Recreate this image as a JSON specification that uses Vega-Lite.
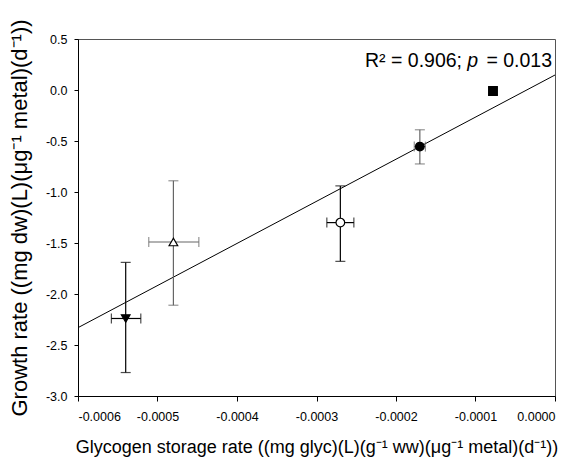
{
  "$schema": "https://vega.github.io/schema/vega-lite/v6.json",
  "autosize": "none",
  "width": 477,
  "height": 357,
  "padding": {"left": 78, "top": 39, "right": 22, "bottom": 72},
  "background": "white",
  "config": {
    "font": "Liberation Sans",
    "view": {"stroke": "#555", "strokeWidth": 1},
    "axis": {"grid": false, "domainColor": "#000", "tickColor": "#000", "labelColor": "#000", "titleColor": "#000", "labelFontSize": 12, "titleFontWeight": "normal", "labelFont": "Liberation Sans", "titleFont": "Liberation Sans"}
  },
  "datasets": {
    "pts": [
      {"series": "A", "x": -0.00054, "y": -2.24, "xlo": -0.000558, "xhi": -0.000521, "ylo": -2.77, "yhi": -1.69},
      {"series": "B", "x": -0.00048, "y": -1.49, "xlo": -0.000511, "xhi": -0.000448, "ylo": -2.11, "yhi": -0.89},
      {"series": "C", "x": -0.00027, "y": -1.30, "xlo": -0.000287, "xhi": -0.000253, "ylo": -1.68, "yhi": -0.94},
      {"series": "D", "x": -0.00017, "y": -0.555, "xlo": -0.000177, "xhi": -0.000163, "ylo": -0.725, "yhi": -0.39},
      {"series": "E", "x": -0.000078, "y": -0.01, "xlo": -0.000083, "xhi": -0.000073, "ylo": -0.045, "yhi": 0.025}
    ],
    "fit": [
      {"x": -0.0006, "y": -2.33},
      {"x": 0.0, "y": 0.147}
    ],
    "note": [
      {"x": 0, "y": 0.225, "stat": "R² = 0.906;", "p": "p", "pval": "= 0.013"}
    ]
  },
  "layer": [
    {
      "data": {"name": "fit"},
      "mark": {"type": "line", "color": "#000", "strokeWidth": 1, "clip": true},
      "encoding": {
        "x": {"field": "x", "type": "quantitative", "scale": {"domain": [-0.0006, 0], "nice": false, "zero": false},
          "axis": {"values": [-0.0006, -0.0005, -0.0004, -0.0003, -0.0002, -0.0001, 0], "labelExpr": "replace(format(datum.value, '.4f'), '\u2212', '-')", "tickSize": 5, "labelPadding": 9, "labelFontSize": 12.5,
            "title": "Glycogen storage rate ((mg glyc)(L)(g⁻¹ ww)(μg⁻¹ metal)(d⁻¹))", "titleFontSize": 18, "titlePadding": 16}},
        "y": {"field": "y", "type": "quantitative", "scale": {"domain": [-3, 0.5], "nice": false, "zero": false},
          "axis": {"values": [-3, -2.5, -2, -1.5, -1, -0.5, 0, 0.5], "labelExpr": "replace(format(datum.value, '.1f'), '\u2212', '-')", "tickSize": 4, "labelPadding": 7, "labelFontSize": 12.5,
            "title": "Growth rate ((mg dw)(L)(μg⁻¹ metal)(d⁻¹))", "titleFontSize": 22, "titlePadding": 14}}
      }
    },
    {
      "data": {"name": "pts"},
      "mark": {"type": "rule", "strokeWidth": 1.2},
      "encoding": {
        "x": {"field": "x", "type": "quantitative"},
        "y": {"field": "ylo", "type": "quantitative"},
        "y2": {"field": "yhi"},
        "stroke": {"field": "series", "type": "nominal", "scale": {"domain": ["A", "B", "C", "D", "E"], "range": ["#000", "#666", "#000", "#666", "#777"]}, "legend": null}
      }
    },
    {
      "data": {"name": "pts"},
      "mark": {"type": "rule", "strokeWidth": 1.2},
      "encoding": {
        "x": {"field": "xlo", "type": "quantitative"},
        "x2": {"field": "xhi"},
        "y": {"field": "y", "type": "quantitative"},
        "stroke": {"field": "series", "type": "nominal", "legend": null}
      }
    },
    {
      "data": {"name": "pts"},
      "mark": {"type": "tick", "orient": "horizontal", "size": 10, "thickness": 1.2},
      "encoding": {
        "x": {"field": "x", "type": "quantitative"},
        "y": {"field": "ylo", "type": "quantitative"},
        "color": {"field": "series", "type": "nominal", "scale": {"domain": ["A", "B", "C", "D", "E"], "range": ["#000", "#666", "#000", "#666", "#777"]}, "legend": null}
      }
    },
    {
      "data": {"name": "pts"},
      "mark": {"type": "tick", "orient": "horizontal", "size": 10, "thickness": 1.2},
      "encoding": {
        "x": {"field": "x", "type": "quantitative"},
        "y": {"field": "yhi", "type": "quantitative"},
        "color": {"field": "series", "type": "nominal", "legend": null}
      }
    },
    {
      "data": {"name": "pts"},
      "mark": {"type": "tick", "orient": "vertical", "size": 10, "thickness": 1.2},
      "encoding": {
        "x": {"field": "xlo", "type": "quantitative"},
        "y": {"field": "y", "type": "quantitative"},
        "color": {"field": "series", "type": "nominal", "legend": null}
      }
    },
    {
      "data": {"name": "pts"},
      "mark": {"type": "tick", "orient": "vertical", "size": 10, "thickness": 1.2},
      "encoding": {
        "x": {"field": "xhi", "type": "quantitative"},
        "y": {"field": "y", "type": "quantitative"},
        "color": {"field": "series", "type": "nominal", "legend": null}
      }
    },
    {
      "data": {"name": "pts"},
      "mark": {"type": "point", "filled": false, "stroke": "#000", "strokeWidth": 1.2, "size": 75, "opacity": 1},
      "encoding": {
        "x": {"field": "x", "type": "quantitative"},
        "y": {"field": "y", "type": "quantitative"},
        "shape": {"field": "series", "type": "nominal", "scale": {"domain": ["A", "B", "C", "D", "E"], "range": ["triangle-down", "triangle-up", "circle", "circle", "square"]}, "legend": null},
        "fill": {"field": "series", "type": "nominal", "scale": {"domain": ["A", "B", "C", "D", "E"], "range": ["#000", "#fff", "#fff", "#000", "#000"]}, "legend": null}
      }
    },
    {
      "data": {"name": "note"},
      "mark": {"type": "text", "align": "right", "baseline": "alphabetic", "fontSize": 19.5, "dx": -93, "color": "#000"},
      "encoding": {"x": {"field": "x", "type": "quantitative"}, "y": {"field": "y", "type": "quantitative"}, "text": {"field": "stat"}}
    },
    {
      "data": {"name": "note"},
      "mark": {"type": "text", "align": "right", "baseline": "alphabetic", "fontSize": 19.5, "fontStyle": "italic", "dx": -77, "color": "#000"},
      "encoding": {"x": {"field": "x", "type": "quantitative"}, "y": {"field": "y", "type": "quantitative"}, "text": {"field": "p"}}
    },
    {
      "data": {"name": "note"},
      "mark": {"type": "text", "align": "right", "baseline": "alphabetic", "fontSize": 19.5, "dx": -3, "color": "#000"},
      "encoding": {"x": {"field": "x", "type": "quantitative"}, "y": {"field": "y", "type": "quantitative"}, "text": {"field": "pval"}}
    }
  ]
}
